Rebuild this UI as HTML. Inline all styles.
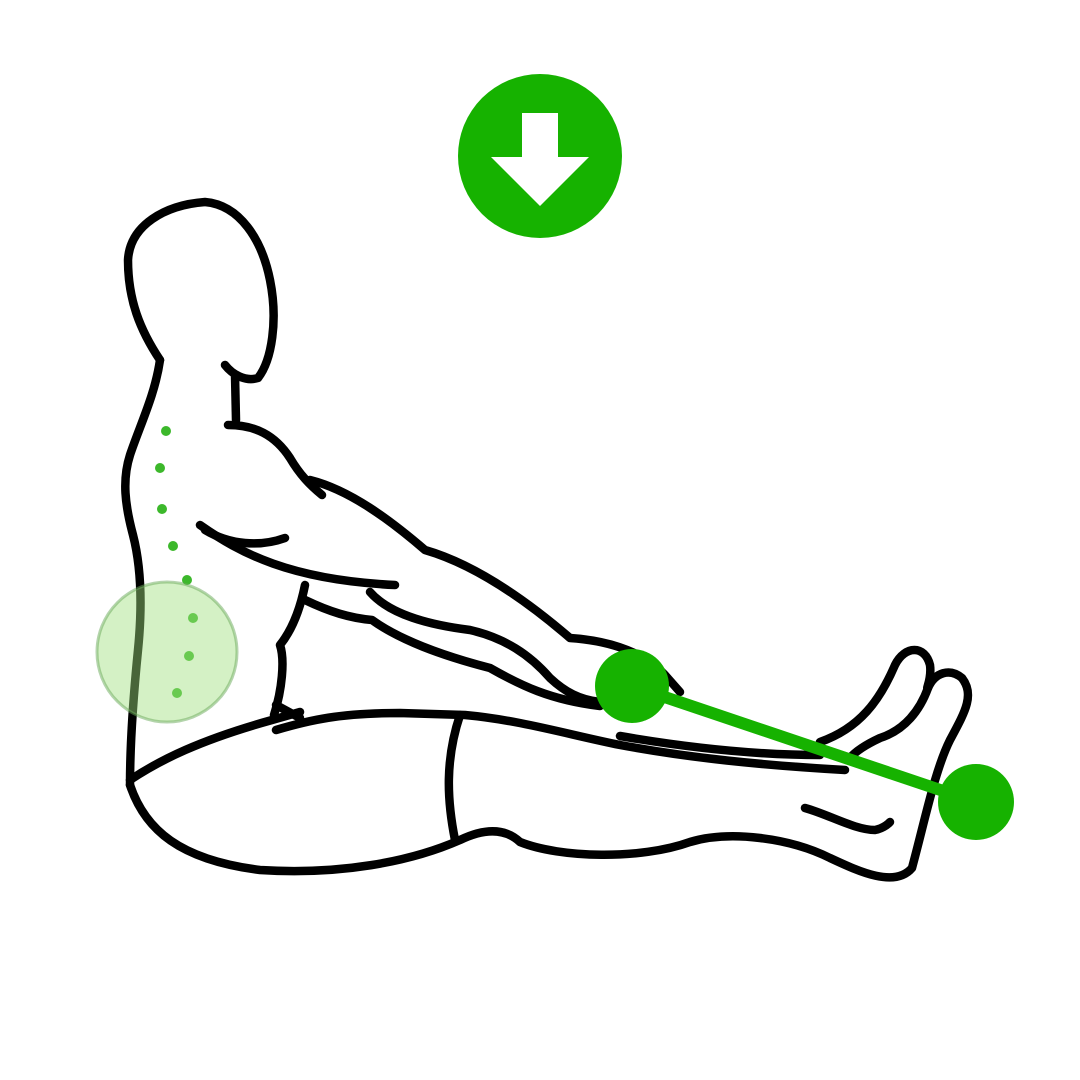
<!DOCTYPE html>
<html><head><meta charset="utf-8"><style>
html,body{margin:0;padding:0;background:#fff;width:1080px;height:1080px;overflow:hidden}
</style></head><body>
<svg width="1080" height="1080" viewBox="0 0 1080 1080" xmlns="http://www.w3.org/2000/svg">
<rect width="1080" height="1080" fill="#fff"/>
<circle cx="540" cy="156" r="82" fill="#16b200"/>
<polygon points="522,113 558,113 558,157 589,157 540,206 491,157 522,157" fill="#fff"/>
<g fill="none" stroke="#000" stroke-width="8.5" stroke-linecap="round" stroke-linejoin="round">
<path d="M160,360 C140,330 128,300 128,260 C130,225 165,205 205,202 C240,205 262,240 270,280 C278,320 272,360 258,378 C245,382 232,374 225,365"/>
<path d="M235,375 L236,420"/>
<path d="M160,360 C155,395 140,425 130,455 C122,480 125,505 133,535 C142,570 142,610 138,650 C133,700 130,745 130,785"/>
<path d="M228,425 C255,425 275,435 290,458 C300,475 310,485 322,495"/>
<path d="M310,480 C350,490 390,520 425,550 C470,563 520,595 570,638 C600,640 640,648 665,675 L680,692"/>
<path d="M200,525 C240,553 290,580 395,585"/>
<path d="M205,530 C230,545 260,547 285,538"/>
<path d="M370,592 C390,615 430,625 470,630 C505,638 530,655 550,678 C565,692 580,700 600,702"/>
<path d="M305,600 C330,612 350,618 372,620 C400,640 440,655 490,668 C520,685 550,700 600,706"/>
<path d="M305,585 C300,610 292,630 280,645 C285,660 282,690 274,715"/>
<path d="M130,780 C160,760 200,740 272,720 L300,712"/>
<path d="M276,730 C310,720 340,713 400,713 L465,715 C520,720 570,735 620,745 C690,758 760,765 845,770"/>
<path d="M620,736 C690,748 760,755 820,755"/>
<path d="M460,715 C445,760 447,800 455,840"/>
<path d="M130,785 C145,830 180,860 260,870 C340,875 410,862 460,840 C485,828 505,828 520,842 C560,858 640,860 690,842 C730,830 790,838 830,858 C860,872 895,888 912,868 C925,820 935,770 950,740 C965,712 975,695 962,678 C950,668 935,672 928,688"/>
<path d="M820,742 C860,728 880,700 895,665 C905,645 925,645 930,665 C932,680 925,690 928,688 C920,710 905,730 880,738 C865,745 855,752 850,758"/>
<path d="M805,808 C830,815 855,830 875,830 C885,828 890,822 890,822"/>
<path d="M276,705 L300,718"/>
</g>
<g fill="#3cb82b">
<circle cx="166" cy="431" r="5"/><circle cx="160" cy="468" r="5"/><circle cx="162" cy="509" r="5"/>
<circle cx="173" cy="546" r="5"/><circle cx="187" cy="580" r="5"/><circle cx="193" cy="618" r="5"/>
<circle cx="189" cy="656" r="5"/><circle cx="177" cy="693" r="5"/>
</g>
<circle cx="167" cy="652" r="70" fill="#9fe07f" fill-opacity="0.45" stroke="#6aaa5a" stroke-opacity="0.5" stroke-width="3"/>
<line x1="632" y1="686" x2="976" y2="802" stroke="#16b200" stroke-width="12"/>
<circle cx="632" cy="686" r="37" fill="#16b200"/>
<circle cx="976" cy="802" r="38" fill="#16b200"/>
</svg>
</body></html>
